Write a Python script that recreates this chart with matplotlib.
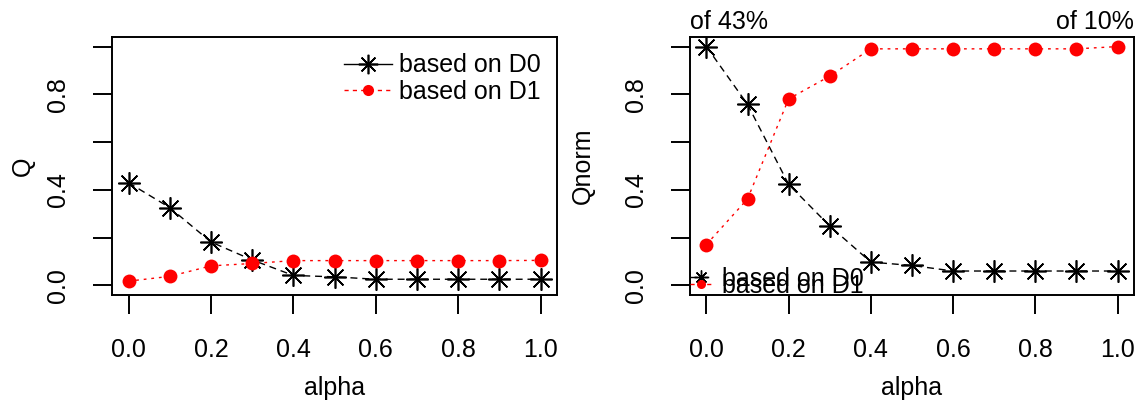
import matplotlib.pyplot as plt
from matplotlib.lines import Line2D

plt.rcParams['font.family'] = ['Liberation Sans', 'DejaVu Sans']
plt.rcParams['font.size'] = 18

alpha = [0.0, 0.1, 0.2, 0.3, 0.4, 0.5, 0.6, 0.7, 0.8, 0.9, 1.0]
q_d0 = [0.430, 0.326, 0.182, 0.107, 0.042, 0.036, 0.026, 0.026, 0.026, 0.026, 0.026]
q_d1 = [0.018, 0.038, 0.082, 0.092, 0.104, 0.104, 0.104, 0.104, 0.104, 0.104, 0.105]
labels = ['based on D0', 'based on D1']

max_d0 = max(q_d0)
max_d1 = max(q_d1)
qn_d0 = [v / max_d0 for v in q_d0]
qn_d1 = [v / max_d1 for v in q_d1]

BLACK_DASH = (5, 3.5)
RED_DASH = (2, 3.5)


def style_axes(ax, ylabel, ylabelpad):
    ax.set_xlim(-0.04, 1.04)
    ax.set_ylim(-0.04, 1.04)
    ax.set_xticks([0, 0.2, 0.4, 0.6, 0.8, 1.0])
    ax.set_xticklabels(['0.0', '0.2', '0.4', '0.6', '0.8', '1.0'])
    ax.set_yticks([0, 0.2, 0.4, 0.6, 0.8, 1.0])
    ax.set_yticklabels(['0.0', '', '0.4', '', '0.8', ''])
    ax.tick_params(direction='out', length=14, width=1.4)
    ax.tick_params(axis='x', pad=17)
    ax.tick_params(axis='y', labelrotation=90, pad=16.5)
    for t in ax.get_yticklabels():
        t.set_va('center')
    for s in ax.spines.values():
        s.set_linewidth(1.4)
    ax.set_xlabel('alpha', labelpad=10)
    ax.set_ylabel(ylabel, labelpad=ylabelpad)


def draw_series(ax, y0, y1):
    ax.plot(alpha, y0, color='black', lw=1.0, dashes=BLACK_DASH,
            marker=(8, 2, 0), markersize=16, markeredgewidth=1.2)
    ax.plot(alpha, y1, color='red', lw=1.0, dashes=RED_DASH,
            marker='o', markersize=10, markeredgewidth=0)


fig = plt.figure(figsize=(11.48, 4.01), dpi=100)
ax1 = fig.add_axes([0.0976, 0.2643, 0.3876, 0.6434])
ax2 = fig.add_axes([0.6010, 0.2643, 0.3868, 0.6434])

# left: raw Q
draw_series(ax1, q_d0, q_d1)
style_axes(ax1, 'Q', 8)
h1 = [Line2D([], [], color='black', lw=1.0, marker=(8, 2, 0), markersize=14,
             markeredgewidth=1.2),
      Line2D([], [], color='red', lw=1.0, dashes=(3, 3), marker='o',
             markersize=8, markeredgewidth=0)]
ax1.legend(h1, labels, loc='upper right', frameon=False, borderaxespad=0.45,
           borderpad=0.2, handlelength=1.9, handletextpad=0.3, labelspacing=0.1)

# right: Q normalised by each series' maximum
draw_series(ax2, qn_d0, qn_d1)
style_axes(ax2, 'Qnorm', 21)
ax2.set_title(f'of {max_d0 * 100:.0f}%', loc='left', pad=6, fontsize=18)
ax2.set_title(f'of {max_d1 * 100:.0f}%', loc='right', pad=6, fontsize=18)
h2 = [Line2D([], [], color='black', lw=1.0, dashes=BLACK_DASH, marker=(8, 2, 0),
             markersize=10, markeredgewidth=1.0),
      Line2D([], [], color='red', lw=1.0, dashes=(3, 3), marker='o',
             markersize=6.5, markeredgewidth=0)]
ax2.legend(h2, labels, loc='lower left', frameon=False, borderaxespad=0.0,
           borderpad=0.0, bbox_to_anchor=(0.0, -0.01),
           handlelength=0.9, handletextpad=0.4, labelspacing=-0.68)

fig.savefig('out.png', dpi=100)
